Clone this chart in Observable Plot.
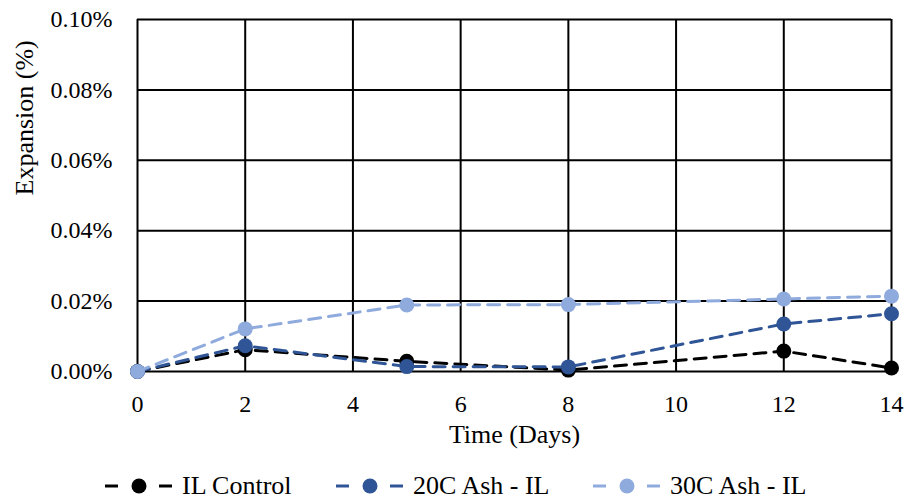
<!DOCTYPE html>
<html>
<head>
<meta charset="utf-8">
<script src="https://cdn.jsdelivr.net/npm/d3@7"></script>
<script src="https://cdn.jsdelivr.net/npm/@observablehq/plot@0.6"></script>
<style>
  body { margin: 0; background: #fff; font-family: "Liberation Serif", "Times New Roman", serif; overflow: hidden; }
  #chart svg { display: block; }
  #legend { display: block; overflow: visible; }
</style>
</head>
<body>
<div id="chart"></div>
<svg id="legend" width="906" height="37"></svg>
<script>
const days = [0, 2, 5, 8, 12, 14];
const seriesNames = ["IL Control", "20C Ash - IL", "30C Ash - IL"];
const seriesColors = ["#000000", "#2F5597", "#8FAADC"];
const ilControl = [0, 0.0062, 0.0029, 0.0004, 0.0058, 0.0010];
const ash20 = [0, 0.0073, 0.0014, 0.0013, 0.0135, 0.0164];
const ash30 = [0, 0.0121, 0.0189, 0.0190, 0.0206, 0.0214];
const xTicks = [0, 2, 4, 6, 8, 10, 12, 14];
const yTicks = [0, 0.02, 0.04, 0.06, 0.08, 0.10];
const legendDotX = [139, 370, 627];

const seriesValues = [ilControl, ash20, ash30];
const data = seriesValues.flatMap((vals, i) =>
  days.map((d, j) => ({series: seriesNames[i], day: d, value: vals[j]}))
);

const FONT = "\"Liberation Serif\", \"Times New Roman\", serif";
const marks = [
  Plot.gridX(xTicks, {stroke: "#000", strokeOpacity: 1, strokeWidth: 2}),
  Plot.gridY(yTicks, {stroke: "#000", strokeOpacity: 1, strokeWidth: 2}),
  Plot.axisX(xTicks, {tickSize: 0, tickPadding: 23, label: null, fontSize: 24}),
  Plot.axisY(yTicks, {tickSize: 0, tickPadding: 25, label: null, fontSize: 24, tickFormat: d => d.toFixed(2) + "%"}),
  Plot.text(["Time (Days)"], {frameAnchor: "bottom", lineAnchor: "middle", dy: 63, fontSize: 26}),
  Plot.text(["Expansion (%)"], {frameAnchor: "left", lineAnchor: "middle", rotate: -90, dx: -113, fontSize: 26})
];
seriesNames.forEach((name, i) => {
  const sub = data.filter(d => d.series === name);
  marks.push(Plot.line(sub, {x: "day", y: "value", stroke: seriesColors[i], strokeWidth: 3, strokeDasharray: "12,8"}));
  marks.push(Plot.dot(sub, {x: "day", y: "value", fill: seriesColors[i], r: 7.5}));
});

const chart = Plot.plot({
  width: 906,
  height: 462,
  marginLeft: 137,
  marginRight: 15,
  marginTop: 19,
  marginBottom: 91,
  style: {fontFamily: FONT, fontSize: "24px", color: "#000", background: "#fff"},
  x: {domain: [0, 14]},
  y: {domain: [0, 0.10]},
  marks
});
document.getElementById("chart").appendChild(chart);

const legend = d3.select("#legend");
seriesNames.forEach((name, i) => {
  const cx = legendDotX[i];
  const g = legend.append("g");
  g.append("line").attr("x1", cx - 34).attr("x2", cx - 21).attr("y1", 24).attr("y2", 24)
    .attr("stroke", seriesColors[i]).attr("stroke-width", 3);
  g.append("line").attr("x1", cx + 20).attr("x2", cx + 33).attr("y1", 24).attr("y2", 24)
    .attr("stroke", seriesColors[i]).attr("stroke-width", 3);
  g.append("circle").attr("cx", cx).attr("cy", 24).attr("r", 7.5).attr("fill", seriesColors[i]);
  g.append("text").attr("x", cx + 43).attr("y", 32).attr("font-size", 26)
    .attr("font-family", FONT).attr("fill", "#000").text(name);
});
</script>
</body>
</html>
